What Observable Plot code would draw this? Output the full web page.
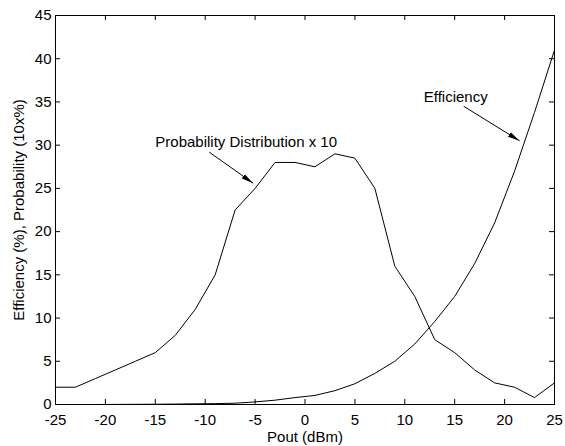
<!DOCTYPE html>
<html>
<head>
<meta charset="utf-8">
<script src="https://cdn.jsdelivr.net/npm/d3@7"></script>
<script src="https://cdn.jsdelivr.net/npm/@observablehq/plot@0.6"></script>
<style>
  html, body { margin: 0; padding: 0; background: white; }
</style>
</head>
<body>
<div id="chart"></div>
<script>
const pout = [-25,-23,-21,-19,-17,-15,-13,-11,-9,-7,-5,-3,-1,1,3,5,7,9,11,13,15,17,19,21,23,25];
const probability = [2,2,3,4,5,6,8,11,15,22.5,25,28,28,27.5,29,28.5,25,16,12.5,7.5,6,4,2.5,2,0.8,2.5];
const efficiency = [0,0,0,0.01,0.02,0.03,0.05,0.08,0.1,0.15,0.3,0.5,0.8,1.05,1.6,2.4,3.6,5,7,9.6,12.5,16.3,21,27,33.8,41];
const xTicks = [-25,-20,-15,-10,-5,0,5,10,15,20,25];
const yTicks = [0,5,10,15,20,25,30,35,40,45];
const labels = [
  {text: "Probability Distribution x 10", x: -15, y: 30.3},
  {text: "Efficiency", x: 11.9, y: 35.5}
];
const arrows = [
  {x1: -9.6, y1: 29.2, x2: -5.2, y2: 25.6},
  {x1: 15.9, y1: 34.5, x2: 21.5, y2: 30.5}
];
const xLabel = "Pout (dBm)";
const yLabel = "Efficiency (%), Probability (10x%)";

const W = 565, H = 446, mL = 55, mR = 11, mT = 15, mB = 42;
const innerW = W - mL - mR, innerH = H - mT - mB, tick = 5;

const svg = Plot.plot({
  width: W, height: H,
  marginLeft: mL, marginRight: mR, marginTop: mT, marginBottom: mB,
  x: {domain: [-25, 25], label: null},
  y: {domain: [0, 45], label: null},
  style: {fontFamily: "'Liberation Sans', Arial, sans-serif", fontSize: "15px", color: "black", background: "white"},
  marks: [
    Plot.axisX(xTicks, {tickSize: 0, tickPadding: 10, fontSize: 15, tickFormat: d => String(d)}),
    Plot.axisY(yTicks, {tickSize: 0, tickPadding: 4, fontSize: 15, tickFormat: d => String(d)}),
    Plot.tickX(xTicks, {x: d => d, insetTop: innerH - tick, stroke: "black"}),
    Plot.tickX(xTicks, {x: d => d, insetBottom: innerH - tick, stroke: "black"}),
    Plot.tickY(yTicks, {y: d => d, insetRight: innerW - tick, stroke: "black"}),
    Plot.tickY(yTicks, {y: d => d, insetLeft: innerW - tick, stroke: "black"}),
    Plot.lineY(probability, {x: pout, stroke: "black", strokeWidth: 1}),
    Plot.lineY(efficiency, {x: pout, stroke: "black", strokeWidth: 1}),
    Plot.link(arrows, {x1: "x1", y1: "y1", x2: "x2", y2: "y2", stroke: "black", strokeWidth: 1}),
    Plot.text(labels, {x: "x", y: "y", text: "text", textAnchor: "start", lineAnchor: "middle", fontSize: 15, fill: "black"}),
    Plot.text([xLabel], {frameAnchor: "bottom", dy: 33, textAnchor: "middle", lineAnchor: "middle", fontSize: 15, fill: "black"}),
    Plot.text([yLabel], {frameAnchor: "left", dx: -36, rotate: -90, textAnchor: "middle", lineAnchor: "middle", fontSize: 15, fill: "black"}),
    Plot.frame({stroke: "black", strokeWidth: 1})
  ]
});

// filled arrowheads
const defs = d3.select(svg).append("defs");
defs.append("marker")
  .attr("id", "ahead")
  .attr("viewBox", "0 -3 12 6")
  .attr("refX", 12).attr("refY", 0)
  .attr("markerWidth", 12).attr("markerHeight", 6)
  .attr("markerUnits", "userSpaceOnUse")
  .attr("orient", "auto")
  .append("path")
  .attr("d", "M0,-2.6L12,0L0,2.6Z")
  .attr("fill", "black");
d3.select(svg).selectAll('g[aria-label="link"] path').attr("marker-end", "url(#ahead)");

document.getElementById("chart").appendChild(svg);
</script>
</body>
</html>
